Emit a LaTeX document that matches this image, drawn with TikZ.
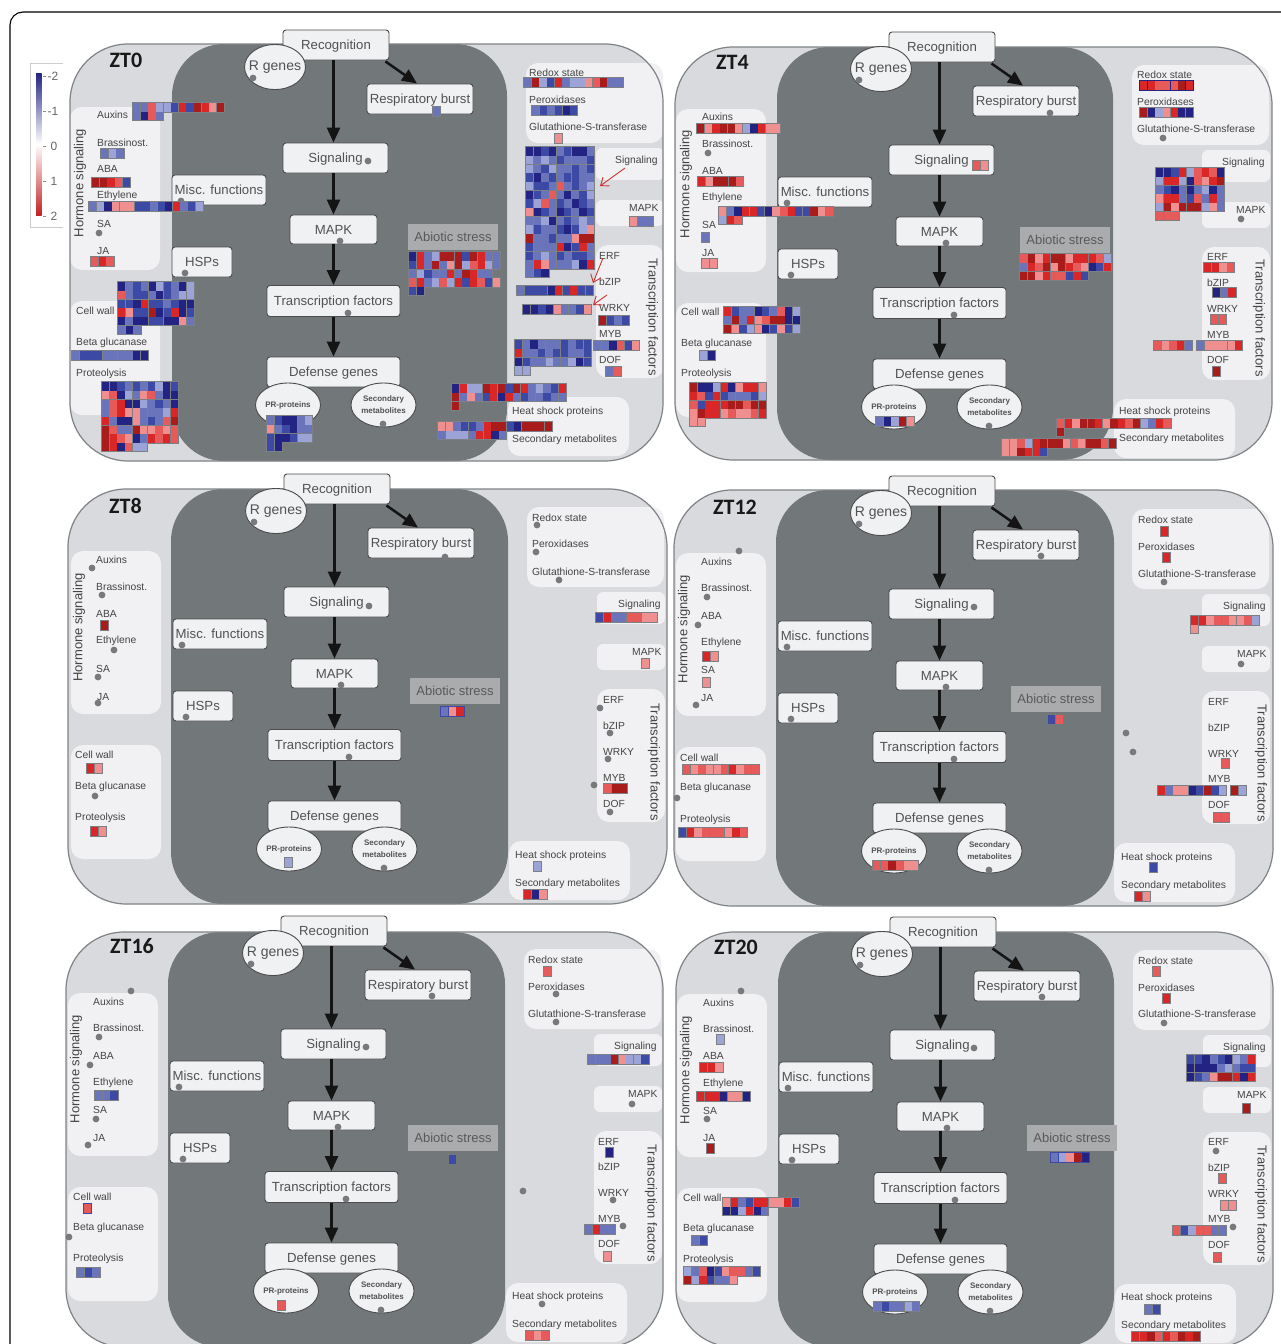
\documentclass[tikz,border=0pt]{standalone}
\usepackage{fontspec}
\setmainfont{Liberation Sans}
\newfontfamily\titlefont{Carlito}
\usetikzlibrary{shapes.geometric,arrows.meta}
\definecolor{hmca}{HTML}{232383}
\definecolor{hmcb}{HTML}{3C4AA6}
\definecolor{hmcc}{HTML}{6A74BB}
\definecolor{hmcd}{HTML}{9CA3D6}
\definecolor{hmce}{HTML}{EF8F8F}
\definecolor{hmcf}{HTML}{E65A5A}
\definecolor{hmcg}{HTML}{D92626}
\definecolor{hmch}{HTML}{A81C1C}
\definecolor{hmline}{HTML}{7C7F83}
\definecolor{outerfill}{HTML}{D9DADD}
\definecolor{outerline}{HTML}{7F8385}
\definecolor{darkfill}{HTML}{72777A}
\definecolor{paler}{HTML}{F1F1F3}
\definecolor{nodefill}{HTML}{F0F1F2}
\definecolor{txt}{HTML}{444444}
\definecolor{ntxt}{HTML}{505254}
\definecolor{dotc}{HTML}{77797C}
\definecolor{abio}{HTML}{A9ABAD}
\tikzset{
  cbox/.style={draw=black!70,fill=nodefill,rounded corners=3pt,line width=.9pt,inner sep=0pt,text=ntxt,font=\fontsize{13.2}{16}\selectfont},
  cboxt/.style={cbox,text height=9.5pt,text depth=0pt},
  cell/.style={cbox,ellipse,rounded corners=0pt,font=\fontsize{14}{16}\selectfont},
  smallell/.style={cell,align=center,font=\fontsize{8}{12}\selectfont\bfseries},
  abiobox/.style={fill=abio,inner sep=0pt,minimum width=90pt,minimum height=26pt,text=black!65,font=\fontsize{13}{15}\selectfont},
  carrow/.style={line width=2.5pt,draw=black!92,-{Triangle[length=15pt,width=13pt]}},
  paleb/.style={fill=paler,rounded corners=12pt},
  lbl/.style={anchor=west,inner sep=0pt,yshift=-.8pt,text=txt,font=\fontsize{10.3}{12}\selectfont},
  rlbl/.style={inner sep=0pt,text=txt,font=\fontsize{13}{15}\selectfont},
  ttl/.style={inner sep=0pt,font=\titlefont\bfseries\fontsize{22}{24}\selectfont,text=black!90},
  redarrow/.style={draw=red!75!black!80,line width=.9pt,-{Straight Barb[length=7pt,width=11pt]}},
  legt/.style={inner sep=0pt,text=black!60,font=\fontsize{12}{14}\selectfont}
}
\newcount\hmi
\newcount\labn
\def\hmw{7.6}
\def\hmh{8.7}
\def\hmcA#1{\if#1.\else\fill[\hmedgecol] ({\the\hmi*\hmw-.8},{\j*\hmh-.8}) rectangle ({(\the\hmi+1)*\hmw+.8},{(\j+1)*\hmh+.8});\fi}
\def\hmcB#1{\if#1.\else\fill[hmc#1] ({\the\hmi*\hmw+.15},{\j*\hmh+.15}) rectangle ({(\the\hmi+1)*\hmw-.15},{(\j+1)*\hmh-.15});\fi}
\def\hmA#1{\ifx#1;\else\hmcA{#1}\advance\hmi by 1\relax\expandafter\hmA\fi}
\def\hmB#1{\ifx#1;\else\hmcB{#1}\advance\hmi by 1\relax\expandafter\hmB\fi}
\newcommand\hm[4][hmline]{%
  \begin{scope}[shift={(#2,#3)}]
  \def\hmedgecol{#1}%
  \foreach \hmrow [count=\j from 0] in {#4}{\hmi=0\relax\expandafter\hmA\hmrow;}
  \foreach \hmrow [count=\j from 0] in {#4}{\hmi=0\relax\expandafter\hmB\hmrow;}
  \end{scope}}
\newcommand\lab[3]{\global\advance\labn by 1\relax\node[lbl] (lb\the\labn) at (#1,#2) {#3};}
\newcommand\rlab[4]{\global\advance\labn by 1\relax\node[rlbl,rotate=#4] (lb\the\labn) at (#1,#2) {#3};}
\newcommand\dt[2]{\fill[dotc] (#1,#2) circle (3.4pt);}
% background: L T R B darkL darkR ox oy
\newcommand\bgp[8]{%
  \fill[outerfill,rounded corners=58pt] (#1,#2) rectangle (#3,#4);
  \fill[paleb] ({70+#7},{107+#8}) rectangle ({160+#7},{270+#8});
  \fill[paleb] ({70+#7},{301+#8}) rectangle ({160+#7},{415+#8});
  \fill[paleb] ({526+#7},{63+#8}) rectangle ({663+#7},{143+#8});
  \fill[paleb,rounded corners=6pt] ({596+#7},{148+#8}) rectangle ({664+#7},{180+#8});
  \fill[paleb,rounded corners=6pt] ({596+#7},{200+#8}) rectangle ({664+#7},{226+#8});
  \fill[paleb] ({596+#7},{245+#8}) rectangle ({664+#7},{378+#8});
  \fill[paleb] ({508+#7},{397+#8}) rectangle ({629+#7},{456+#8});
  \fill[darkfill,rounded corners=52pt] (#5,#2) rectangle (#6,#4);
  \draw[outerline,line width=1.2pt,rounded corners=58pt] (#1,#2) rectangle (#3,#4);
}
% shared centre of a panel: prefix ox oy abioX abioY
\newcommand\panel[5]{%
  \node[cboxt,minimum width=106pt,minimum height=30pt] (#1rec) at ({336+#2},{45+#3}) {Recognition};
  \node[cell,minimum width=61pt,minimum height=45pt] (#1rg) at ({275+#2},{67+#3}) {\makebox[0pt]{R genes}};
  \node[cboxt,minimum width=105pt,minimum height=30pt] (#1sig) at ({335.5+#2},{158+#3}) {Signaling};
  \node[cboxt,minimum width=87pt,minimum height=29pt] (#1mapk) at ({333.5+#2},{229.5+#3}) {MAPK};
  \node[cboxt,minimum width=133pt,minimum height=31pt] (#1tf) at ({333.5+#2},{301+#3}) {Transcription factors};
  \node[cboxt,minimum width=133pt,minimum height=30pt] (#1def) at ({333.5+#2},{372+#3}) {Defense genes};
  \node[smallell,minimum width=65pt,minimum height=44pt] (#1pr) at ({288+#2},{405+#3}) {PR-proteins};
  \node[smallell,minimum width=65pt,minimum height=44pt] (#1sec) at ({383.5+#2},{405+#3}) {Secondary\\metabolites};
  \node[cboxt,minimum width=106pt,minimum height=30pt] (#1resp) at ({420+#2},{99+#3}) {Respiratory burst};
  \node[cboxt,minimum width=94pt,minimum height=30pt] (#1misc) at ({219+#2},{190+#3}) {Misc. functions};
  \node[cboxt,minimum width=60pt,minimum height=30pt] (#1hsp) at ({202+#2},{262+#3}) {HSPs};
  \node[abiobox] (#1abio) at (#4,#5) {Abiotic stress};
  \draw[carrow] (#1rec.south -| #1mapk) -- (#1sig.north -| #1mapk);
  \draw[carrow] (#1sig.south -| #1mapk) -- (#1mapk.north);
  \draw[carrow] (#1mapk.south) -- (#1tf.north);
  \draw[carrow] (#1tf.south) -- (#1def.north);
  \draw[carrow] ([yshift=-1pt,xshift=-4pt]#1rec.south east) -- ([xshift=-3pt]#1resp.north);
  \dt{253+#2}{78+#3}\dt{340+#2}{241+#3}\dt{348+#2}{313+#3}
  \dt{181+#2}{201+#3}\dt{185+#2}{273+#3}\dt{383+#2}{424+#3}
}
\begin{document}
\begin{tikzpicture}[x=1pt,y=-1pt]
\useasboundingbox (0,0) rectangle (1281,1344);
\fill[white] (0,0) rectangle (1281,1344);
\draw[black,line width=1.1pt,rounded corners=13pt] (10,12) rectangle (1310,1400);
% legend
\draw[black!20,line width=1pt] (63,63) -- (30,63) -- (30,227) -- (63,227);
\shade[top color=hmca,bottom color=white] (36,73) rectangle (41.5,144);
\shade[top color=white,bottom color=hmcg!90!black] (36,144) rectangle (41.5,215);
\foreach \yy in {76,111,146,181,216}{\draw[black!45,line width=.8pt] (43,\yy) -- (46,\yy);}
\node[legt] (lg1) at (53,76) {-2};
\node[legt] (lg2) at (53,111) {-1};
\node[legt] (lg3) at (54,146) {0};
\node[legt] (lg4) at (54,181) {1};
\node[legt] (lg5) at (54,216) {2};

% ===== ZT0
\bgp{70}{44}{663}{461}{172}{507}{0}{0}
\panel{a}{0}{0}{453}{237}
\node[ttl] (ta) at (126,60) {ZT0};
\rlab{80}{183}{Hormone signaling}{90}
\lab{97}{114}{Auxins}\lab{97}{142}{Brassinost.}\lab{97}{168}{ABA}\lab{97}{195}{Ethylene}\lab{97}{223}{SA}\lab{97}{250}{JA}
\lab{76}{310}{Cell wall}\lab{76}{342}{Beta glucanase}\lab{76}{373}{Proteolysis}
\lab{529}{72}{Redox state}\lab{529}{99}{Peroxidases}\lab{529}{126}{Glutathione-S-transferase}
\lab{615}{160}{Signaling}\lab{629}{207}{MAPK}
\lab{599}{255}{ERF}\lab{599}{281}{bZIP}\lab{599}{307}{WRKY}\lab{599}{333}{MYB}\lab{599}{359}{DOF}
\rlab{652}{317}{Transcription factors}{-90}
\lab{512}{411}{Heat shock proteins}\lab{512}{439}{Secondary metabolites}
\dt{99}{233}\dt{368}{161}
\hm{133}{103}{ccfddbgbhgeh,cafc}
\hm{101}{149}{cdc}
\hm{92}{178}{hhgfb}
\hm{89}{202}{cdaeeebbcbagcbd}
\hm{91}{257}{fgf}
\hm{118}{282}{acbcadbcad,fcbbcabcdd,bbagbbcbaa,gebbhabgab,acaabbaaec,cac}
\hm{72}{351}{cbbbccccaa}
\hm{102}{382}{aabcbcbdab,efadcefcaa,cfgaadcbca,cfgeecccdg,gcaaecbcfh,hfccheefef,hgfeacgfgf,hgafdd}
\hm{267}{416}{cbaacd,ecbacc,baabdd,ba}
\hm{433}{107}{c}
\hm{524}{78}{chdbgcddefhcc}
\hm{532}{106}{cbcbab}
\hm{555}{134}{e}
\hm{526}{147}{aabacbaac,dcdcbcccb,dcbdccbcb,bacbcbbcc,dbbcfcbcd,abcfcacbd,bdfcbcabc,eabcabcab,ccdacbcdc,dbccbabde,hccbccehh,bcccgabgc,bcdcbcbbc,cgecccdag,cba}
\hm{517}{286}{cbbbagbgbb}
\hm{523}{305}{aabaeccbe}
\hm{599}{316}{hbcb}
\hm{594}{341}{ccafbe}
\hm{515}{340}{bcacccbcbb,gccbcbbccb,abccdccdab,dd}
\hm{606}{367}{cf}
\hm{630}{217}{ecc}
\hm{409}{252}{agcdhhhbhgcc,bgchcehdfgdc,cdbccgchgcc,fgcdfdgbgfbe,ba}
\hm{452}{384}{agddhghbhgcdcbg,hcecbgagcbccbcc,h}
\hm{438}{422}{eecbbcghhbahhhh,cdddcggac}
\coordinate (ra1) at (625,168);\coordinate (rb1) at (600,186);
\coordinate (ra2) at (603,258);\coordinate (rb2) at (593,283);
\coordinate (ra3) at (607,295);\coordinate (rb3) at (593,305);
\draw[redarrow] (ra1) -- (rb1);
\draw[redarrow] (ra2) -- (rb2);
\draw[redarrow] (ra3) -- (rb3);

% ===== ZT4
\bgp{675}{47}{1272}{460}{777}{1113}{606}{2}
\panel{b}{606}{2}{1065}{239.5}
\node[ttl] (tb) at (732.5,62) {ZT4};
\rlab{686}{184}{Hormone signaling}{90}
\lab{702}{116}{Auxins}\lab{702}{143}{Brassinost.}\lab{702}{170}{ABA}\lab{702}{197}{Ethylene}\lab{702}{224}{SA}\lab{702}{252}{JA}
\lab{681}{311}{Cell wall}\lab{681}{343}{Beta glucanase}\lab{681}{373}{Proteolysis}
\lab{1137}{74}{Redox state}\lab{1137}{101}{Peroxidases}\lab{1137}{128}{Glutathione-S-transferase}
\lab{1222}{162}{Signaling}\lab{1236}{209}{MAPK}
\lab{1207}{256}{ERF}\lab{1207}{282}{bZIP}\lab{1207}{308}{WRKY}\lab{1207}{334}{MYB}\lab{1207}{359}{DOF}
\rlab{1259}{318}{Transcription factors}{-90}
\lab{1119}{411}{Heat shock proteins}\lab{1119}{438}{Secondary metabolites}
\dt{708}{153}\dt{1050}{113}\dt{1163}{138}\dt{1241}{219}
\hm{697}{124}{heghhedagee}
\hm{698}{177}{gehhhf}
\hm{719}{207}{ecaggbaefgbbhef,dgf}
\hm{702}{233}{c}
\hm{702}{259}{ee}
\hm{724}{307}{gbccabcfad,chcgefhhaa,hebdeabebd}
\hm{700}{351}{da}
\hm{690}{383}{haadgaegge,gfbgbcccbd,fbggghhfhh,ehggefeefg,ee}
\hm{876}{417}{cadhe}
\hm{973}{161}{fe}
\hm[hmca]{1140}{81}{ggfffhg}
\hm{1140}{108}{hadegaa}
\hm{1156}{168}{aabgdfgfa,dggdafegh,cbacacdac,eggcbfcgc,dhehhhdec,fff}
\hm{1204}{263}{ggef}
\hm{1213}{288}{acg}
\hm{1211}{315}{ff}
\hm{1154}{341}{fefgc}
\hm{1197}{341}{ceeeeg}
\hm{1213}{367}{h}
\hm{1020}{254}{fheghhegggfd,cgfhehgfeabg,hhegffbgb}
\hm{1057}{419}{fgehhgehgfhdcgf,h}
\hm{1002}{439}{eefdghhhefehhfh,eehggb}

% ===== ZT8
\bgp{68}{489}{667}{904}{171}{508}{1}{444}
\panel{c}{1}{444}{455}{691}
\node[ttl] (tc) at (125.5,506) {ZT8};
\rlab{79}{627.5}{Hormone signaling}{90}
\lab{96}{559}{Auxins}\lab{96}{586}{Brassinost.}\lab{96}{613}{ABA}\lab{96}{640}{Ethylene}\lab{96}{668}{SA}\lab{97}{696}{JA}
\lab{75}{754}{Cell wall}\lab{75}{786}{Beta glucanase}\lab{75}{817}{Proteolysis}
\lab{532}{517}{Redox state}\lab{532}{543}{Peroxidases}\lab{532}{571}{Glutathione-S-transferase}
\lab{618}{604}{Signaling}\lab{632}{651}{MAPK}
\lab{603}{699}{ERF}\lab{603}{725}{bZIP}\lab{603}{751}{WRKY}\lab{603}{777}{MYB}\lab{603}{803}{DOF}
\rlab{654}{762}{Transcription factors}{-90}
\lab{515}{855}{Heat shock proteins}\lab{515}{883}{Secondary metabolites}
\dt{369}{606}\dt{445}{557}
\dt{92}{568}\dt{102}{595}\dt{114}{650}\dt{98}{677}\dt{98}{703}\dt{95}{796}
\dt{537}{525}\dt{536}{552}\dt{559}{580}\dt{600}{708}\dt{610}{733}\dt{608}{759}\dt{594}{785}\dt{610}{812}
\hm{101}{621}{h}
\hm{87}{764}{ge}
\hm{91}{827}{ge}
\hm{285}{858}{d}
\hm{596}{613}{bgccffee}
\hm{642}{659}{e}
\hm{604}{784}{fhh}
\hm[hmcb]{441}{707}{ceg}
\hm{534}{862}{d}
\hm{524}{890}{gae}

% ===== ZT12
\bgp{674}{490}{1273}{906}{776}{1114}{606}{446}
\panel{d}{606}{446}{1056}{699}
\node[ttl] (td) at (735,507) {ZT12};
\rlab{684}{629}{Hormone signaling}{90}
\lab{701}{561}{Auxins}\lab{701}{587}{Brassinost.}\lab{701}{615}{ABA}\lab{701}{642}{Ethylene}\lab{701}{669}{SA}\lab{701}{697}{JA}
\lab{680}{757}{Cell wall}\lab{680}{787}{Beta glucanase}\lab{680}{819}{Proteolysis}
\lab{1138}{519}{Redox state}\lab{1138}{546}{Peroxidases}\lab{1138}{573}{Glutathione-S-transferase}
\lab{1223}{606}{Signaling}\lab{1237}{653}{MAPK}
\lab{1208}{701}{ERF}\lab{1208}{727}{bZIP}\lab{1208}{753}{WRKY}\lab{1208}{778}{MYB}\lab{1208}{804}{DOF}
\rlab{1261}{763}{Transcription factors}{-90}
\lab{1121}{857}{Heat shock proteins}\lab{1121}{885}{Secondary metabolites}
\dt{974}{607}\dt{1041}{556}
\dt{739}{551}\dt{707}{597}\dt{698}{625}\dt{696}{705}\dt{677}{798}
\dt{1164}{582}\dt{1241}{664}\dt{1126}{733}\dt{1133}{752}
\hm{703}{652}{ge}
\hm{703}{678}{e}
\hm{683}{765}{fefeefgeff}
\hm{679}{828}{bgefffegf}
\hm{873}{861}{ffhfee}
\hm{1161}{527}{g}
\hm{1163}{553}{g}
\hm{1191}{616}{ggeffeefd,e}
\hm{1222}{759}{f}
\hm{1158}{786}{gceeabhbd}
\hm{1231}{786}{hd}
\hm{1214}{813}{ff}
\hm[darkfill]{1048}{715}{bf}
\hm{1150}{863}{b}
\hm{1135}{892}{ge}

% ===== ZT16
\bgp{66}{932}{663}{1347}{168}{505}{-2}{886}
\panel{e}{-2}{886}{453}{1138}
\node[ttl] (te) at (132,946) {ZT16};
\rlab{76}{1069}{Hormone signaling}{90}
\lab{93}{1001}{Auxins}\lab{93}{1027}{Brassinost.}\lab{93}{1055}{ABA}\lab{93}{1082}{Ethylene}\lab{93}{1109}{SA}\lab{93}{1137}{JA}
\lab{73}{1196}{Cell wall}\lab{73}{1227}{Beta glucanase}\lab{73}{1258}{Proteolysis}
\lab{528}{959}{Redox state}\lab{528}{986}{Peroxidases}\lab{528}{1013}{Glutathione-S-transferase}
\lab{614}{1046}{Signaling}\lab{628}{1093}{MAPK}
\lab{598}{1141}{ERF}\lab{598}{1166}{bZIP}\lab{598}{1192}{WRKY}\lab{598}{1218}{MYB}\lab{598}{1243}{DOF}
\rlab{651}{1203}{Transcription factors}{-90}
\lab{512}{1296}{Heat shock proteins}\lab{512}{1324}{Secondary metabolites}
\dt{366}{1047}\dt{432}{996}
\dt{131}{991}\dt{99}{1037}\dt{90}{1065}\dt{96}{1119}\dt{88}{1145}\dt{69}{1237}
\dt{556}{994}\dt{556}{1022}\dt{632}{1104}\dt{613}{1200}\dt{623}{1226}\dt{523}{1191}\dt{542}{1304}
\hm{95}{1091}{ccb}
\hm[hmcb]{84}{1204}{f}
\hm{77}{1268}{cbc}
\hm{278}{1301}{f}
\hm{544}{967}{f}
\hm{588}{1055}{cccheddb}
\hm{606}{1148}{a}
\hm{585}{1225}{cgcc}
\hm{604}{1252}{e}
\hm[darkfill]{449}{1155}{b}
\hm{526}{1331}{fef}

% ===== ZT20
\bgp{676}{932}{1273}{1347}{778}{1114}{607}{887}
\panel{f}{607}{887}{1072}{1138}
\node[ttl] (tf) at (736,947) {ZT20};
\rlab{686}{1070}{Hormone signaling}{90}
\lab{703}{1002}{Auxins}\lab{703}{1028}{Brassinost.}\lab{703}{1055}{ABA}\lab{703}{1083}{Ethylene}\lab{703}{1110}{SA}\lab{703}{1137}{JA}
\lab{683}{1197}{Cell wall}\lab{683}{1228}{Beta glucanase}\lab{683}{1259}{Proteolysis}
\lab{1138}{960}{Redox state}\lab{1138}{987}{Peroxidases}\lab{1138}{1013}{Glutathione-S-transferase}
\lab{1223}{1047}{Signaling}\lab{1237}{1094}{MAPK}
\lab{1208}{1141}{ERF}\lab{1208}{1167}{bZIP}\lab{1208}{1193}{WRKY}\lab{1208}{1218}{MYB}\lab{1208}{1244}{DOF}
\rlab{1261}{1204}{Transcription factors}{-90}
\lab{1121}{1297}{Heat shock proteins}\lab{1121}{1325}{Secondary metabolites}
\dt{974}{1048}\dt{1042}{997}
\dt{741}{991}\dt{707}{1119}
\dt{1164}{1023}\dt{1216}{1151}\dt{1233}{1227}
\hm{717}{1035}{d}
\hm{700}{1063}{gge}
\hm{697}{1092}{gggaeea}
\hm{707}{1144}{h}
\hm{723}{1198}{egcbggeegb,aadgac}
\hm{692}{1236}{cb}
\hm{684}{1267}{dcfabeffcb,hdgbcce}
\hm{874}{1302}{cbccdc}
\hm{1153}{967}{f}
\hm{1163}{994}{g}
\hm{1187}{1055}{bbacbadcg,aaaacdcbb,abcehhgag}
\hm{1243}{1104}{h}
\hm{1219}{1174}{f}
\hm{1221}{1201}{ee}
\hm{1173}{1226}{fbdffcc}
\hm{1214}{1253}{f}
\hm[hmcb]{1051}{1153}{cdeha}
\hm{1145}{1305}{cb}
\hm{1132}{1332}{gghfgfhgh}
\end{tikzpicture}
\end{document}
